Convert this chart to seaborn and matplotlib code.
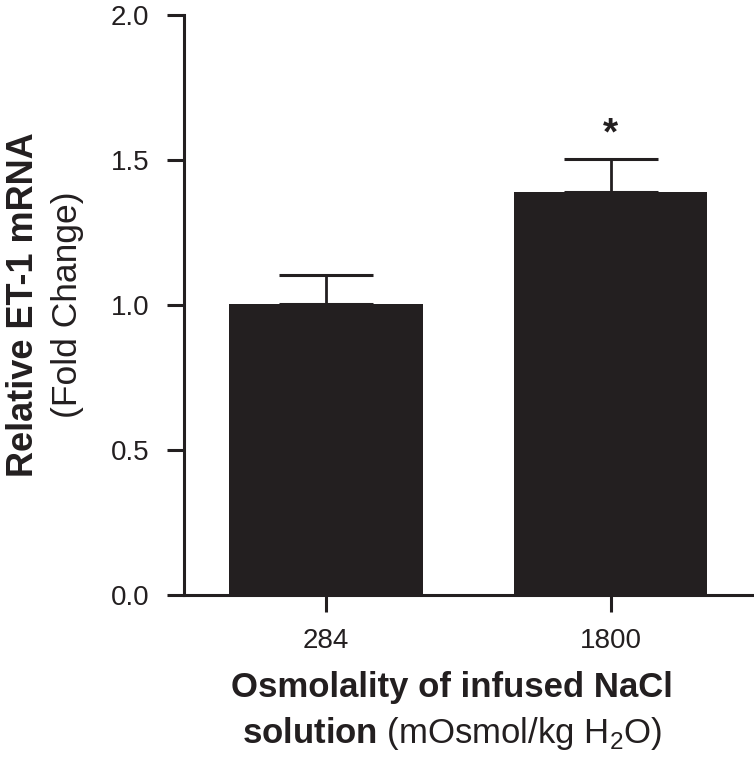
import matplotlib
matplotlib.use("Agg")
import matplotlib.pyplot as plt
import seaborn as sns
import pandas as pd

# data
osmolality = ["284", "1800"]
fold_change = [1.005, 1.39]
sem = [0.10, 0.115]
significance = ["", "*"]

ink = "#231f20"

sns.set_style("ticks")
plt.rcParams["font.family"] = ["Liberation Sans", "DejaVu Sans"]
plt.rcParams["mathtext.fontset"] = "custom"
plt.rcParams["mathtext.rm"] = "Liberation Sans"
plt.rcParams["mathtext.bf"] = "Liberation Sans:bold"

df = pd.DataFrame({"osm": osmolality, "fc": fold_change})

fig = plt.figure(figsize=(7.54, 7.79), dpi=100)
ax = fig.add_axes([0.2440, 0.2362, 0.7547, 0.7445])

sns.barplot(data=df, x="osm", y="fc", color=ink, saturation=1, width=0.68,
            errorbar=None, edgecolor=ink, linewidth=0, ax=ax)
ax.errorbar(x=range(len(osmolality)), y=fold_change,
            yerr=[[0] * len(sem), sem], fmt="none", ecolor=ink,
            elinewidth=2, capsize=33.8, capthick=2.2, zorder=3)

for i, s in enumerate(significance):
    if s:
        ax.text(i, fold_change[i] + sem[i] + 0.02, s, ha="center",
                va="bottom", fontsize=28, fontweight="bold", color=ink)

ax.set_ylim(0, 2.0)
ax.set_xlim(-0.5, 1.5)
ax.set_yticks([0, 0.5, 1.0, 1.5, 2.0])
ax.set_yticklabels(["0.0", "0.5", "1.0", "1.5", "2.0"])
ax.set_xlabel("")
ax.set_ylabel("")
sns.despine(ax=ax)
for sp in ["left", "bottom"]:
    ax.spines[sp].set_linewidth(2.2)
    ax.spines[sp].set_color(ink)
ax.tick_params(axis="both", length=12, width=2.2, color=ink,
               labelsize=20, labelcolor=ink)
ax.tick_params(axis="y", pad=13)
ax.tick_params(axis="x", pad=12)

# axis titles
fig.text(33 / 754, 0.6085, "Relative ET-1 mRNA", rotation=90,
         rotation_mode="anchor", ha="center", va="baseline",
         fontsize=26, fontweight="bold", color=ink)
fig.text(77 / 754, 0.6085, "(Fold Change)", rotation=90,
         rotation_mode="anchor", ha="center", va="baseline",
         fontsize=25.5, color=ink)
fig.text(452 / 754, 1 - 697 / 779, "Osmolality of infused NaCl",
         ha="center", va="baseline", fontsize=25, fontweight="bold", color=ink)
fig.text(452 / 754, 1 - 743 / 779,
         r"$\bf{solution}$ (mOsmol/kg H$_2$O)",
         ha="center", va="baseline", fontsize=25, color=ink)

fig.savefig("out.png", dpi=100)
